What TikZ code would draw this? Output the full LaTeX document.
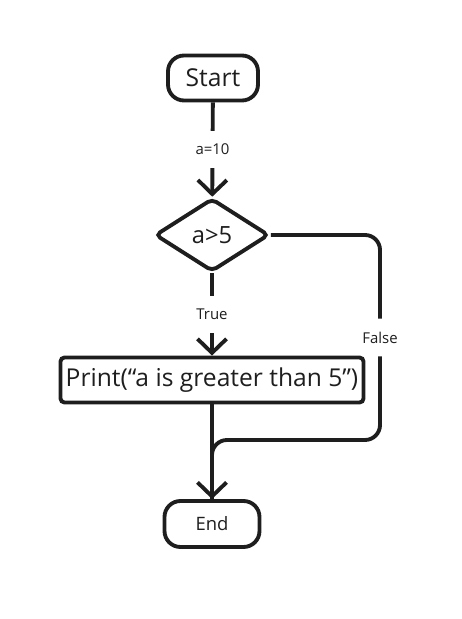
\documentclass[tikz,border=0pt]{standalone}
\usepackage{fontspec}
\setmainfont{Open Sans}
\usetikzlibrary{arrows.meta,positioning,shapes.geometric}
\definecolor{ink}{RGB}{30,30,30}

\begin{document}
\begin{tikzpicture}[x=0.2mm, y=-0.2mm,
    every node/.style={text=ink},
    terminal/.style={draw=ink, line width=2.2pt, rectangle, rounded corners=3.2mm,
                inner sep=0pt, minimum width=18mm, minimum height=9mm},
    process/.style={draw=ink, line width=2.2pt, rectangle, rounded corners=0.8mm,
                inner sep=0pt, minimum width=60.6mm, minimum height=9mm,
                font=\fontsize{14}{16}\selectfont},
    decision/.style={draw=ink, line width=2.2pt, diamond, aspect=1.56,
                rounded corners=1mm, inner sep=0pt,
                minimum width=22.8mm, minimum height=14.6mm,
                font=\fontsize{13.5}{15}\selectfont},
    arrow/.style={-{Straight Barb[length=2.8mm, width=5.8mm]},
                draw=ink, line width=2.2pt},
    line/.style={draw=ink, line width=2.2pt, rounded corners=3mm},
    tag/.style={font=\fontsize{8.5}{10}\selectfont, fill=white,
                inner sep=1pt, minimum height=7.5mm}
  ]
    \useasboundingbox (0,0) rectangle (461,619);

    % Flow
    \node[terminal, font=\fontsize{14}{16}\selectfont] (start) at (213, 78)  {Start};
    \node[decision] (cond)  at (212, 235) {a>5};
    \node[process]  (print) at (212, 380) {Print(“a is greater than 5”)};
    \node[terminal, minimum width=19mm, minimum height=9.2mm,
          font=\fontsize{10.5}{12}\selectfont] (end) at (212, 524) {End};

    % Main arrows
    \draw[arrow] (start) -- node[tag] {a=10} (cond);
    \draw[arrow] (cond)  -- node[tag] {True} (print);
    \draw[arrow] (print) -- (end);

    % False branch joins above End
    \coordinate (falsejoin) at (380, 440);
    \draw[line] (cond.east) -| node[tag, pos=0.75] {False} (falsejoin)
                -- (falsejoin -| end) -- (end.north);
\end{tikzpicture}
\end{document}
